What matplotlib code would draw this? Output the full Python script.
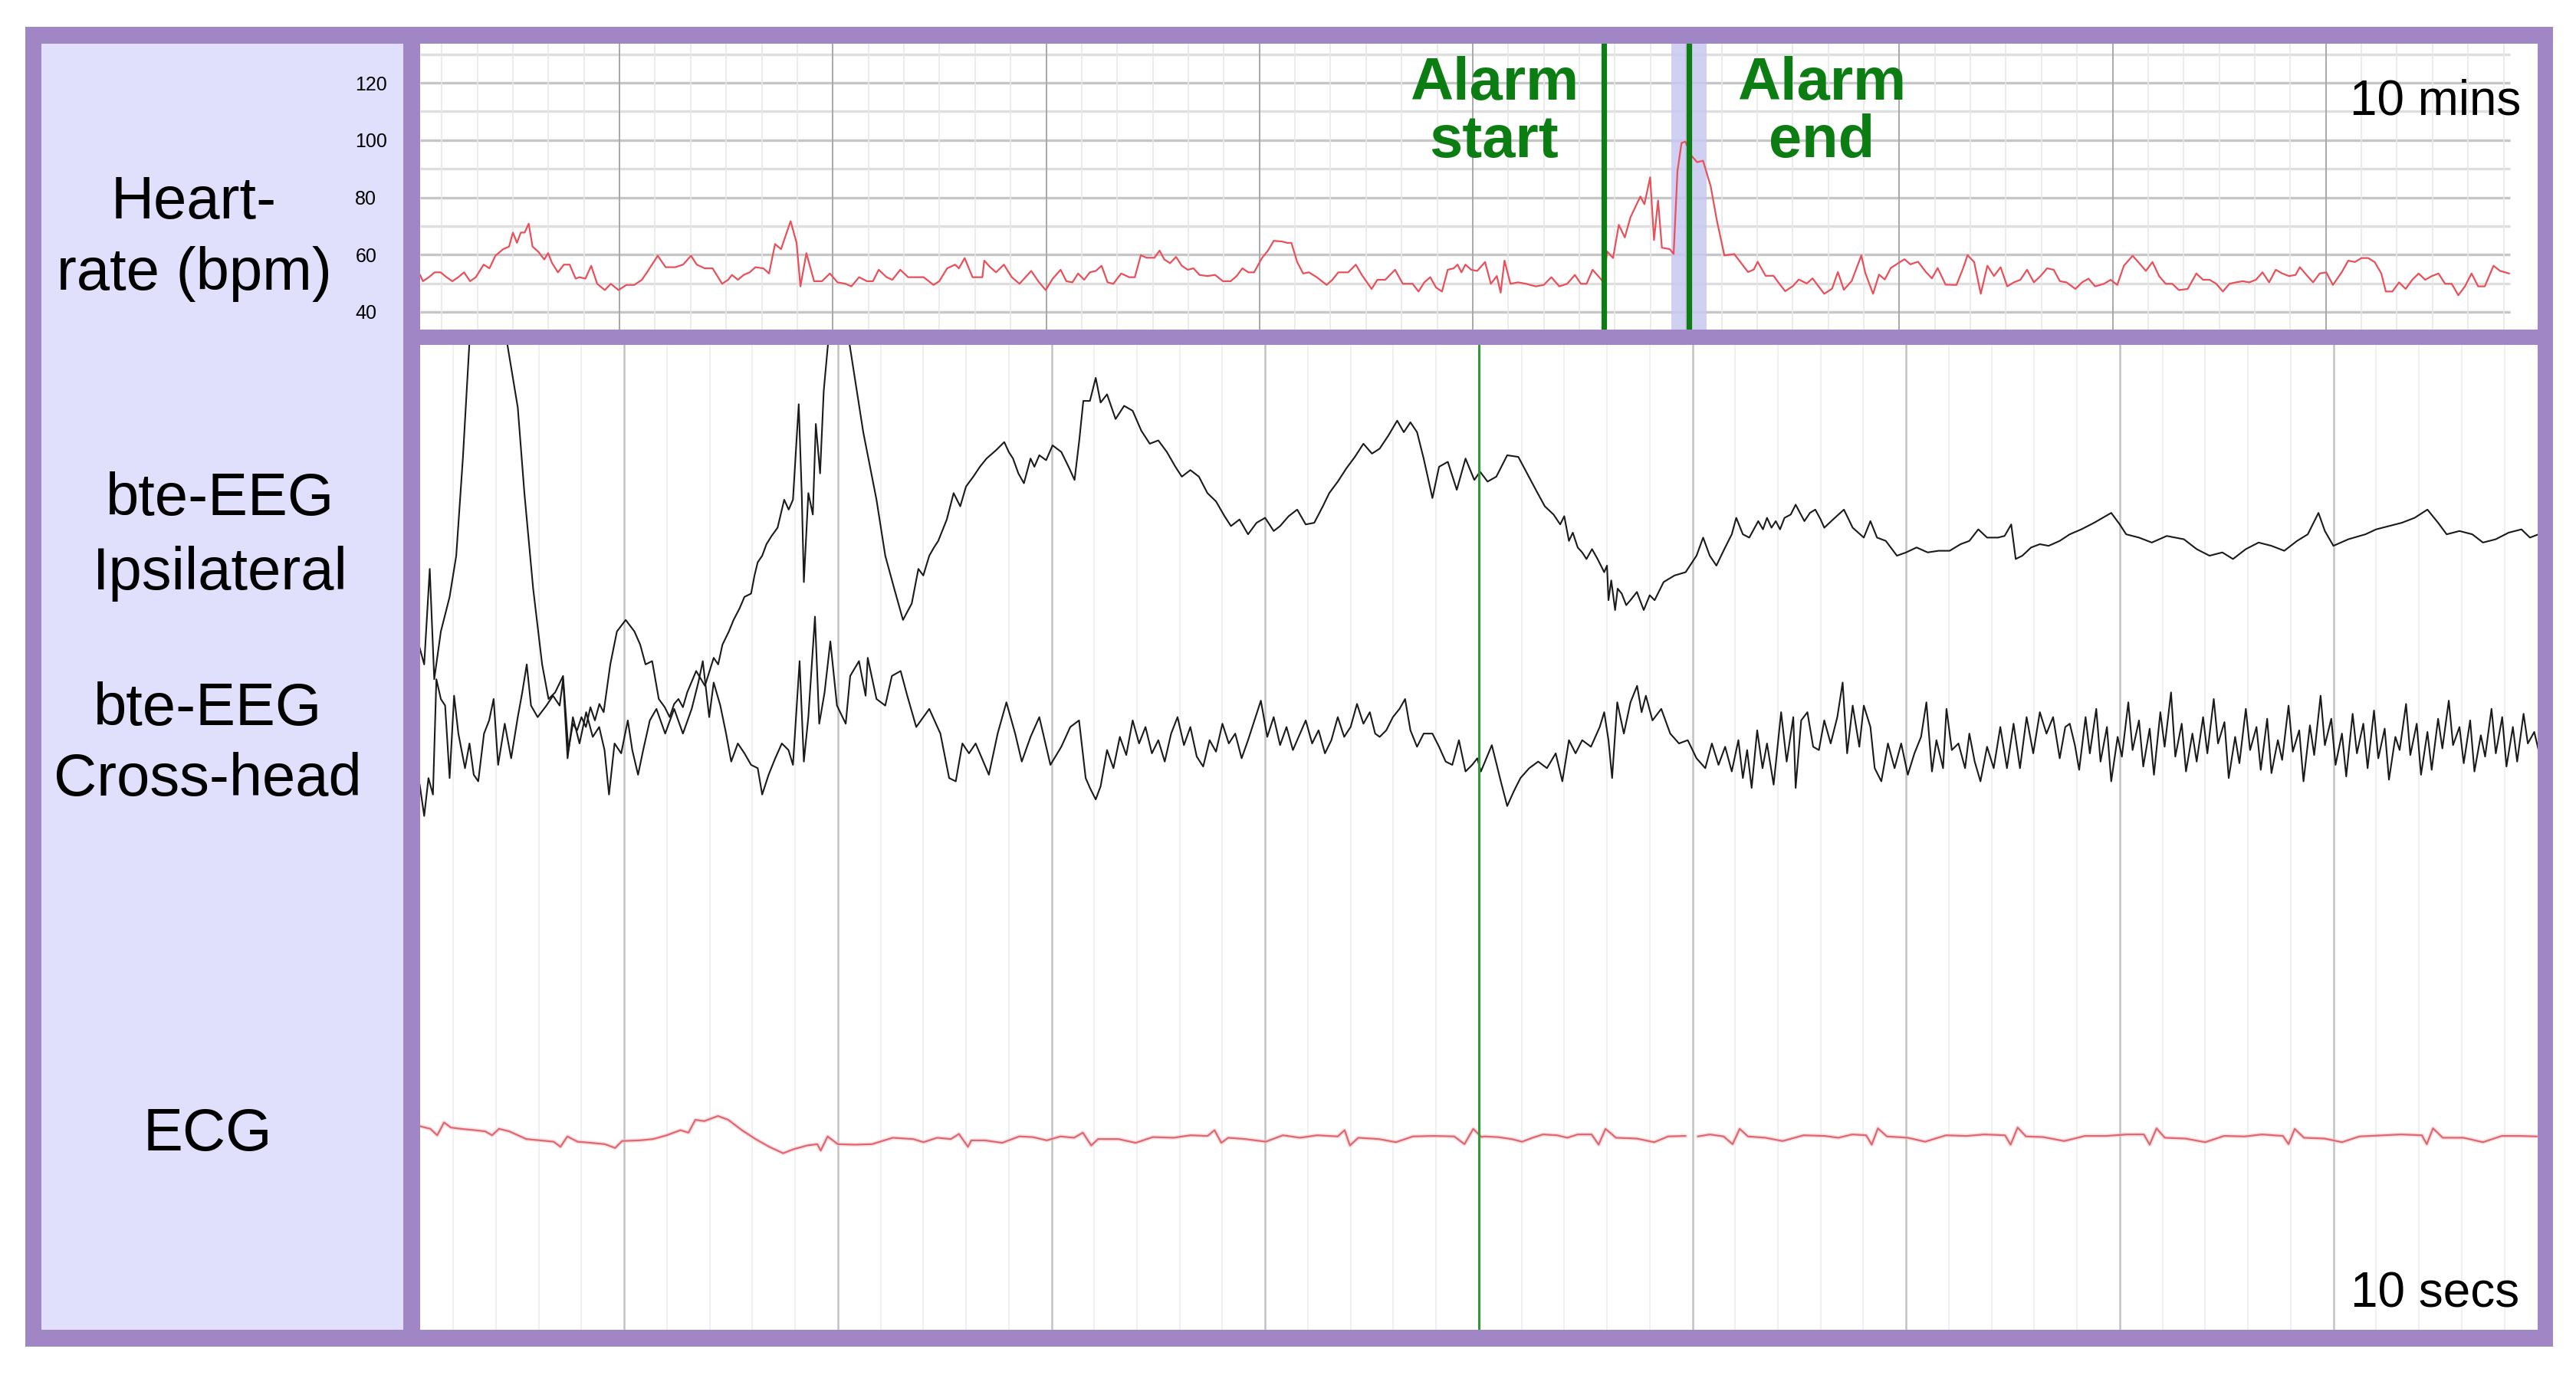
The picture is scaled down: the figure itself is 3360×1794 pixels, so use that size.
import numpy as np
import matplotlib
matplotlib.use("Agg")
import matplotlib.pyplot as plt
from matplotlib.patches import Rectangle

# --- data ------------------------------------------------------------------

# heart rate trend (minutes, bpm) - top strip, 10 min per major division
HR_BEFORE = [
    (0.65, 52.9), (0.78, 50.7), (1.06, 52.1), (1.33, 53.8), (1.61, 53.8), (1.89, 52.1),
    (2.16, 50.7), (2.44, 52.1), (2.71, 53.8), (2.99, 50.7), (3.26, 52.1), (3.63, 56.5),
    (3.90, 55.2), (4.18, 59.6), (4.54, 61.9), (4.82, 62.8), (5.00, 67.7), (5.19, 64.1),
    (5.37, 67.7), (5.55, 67.7), (5.74, 70.8), (5.92, 62.8), (6.19, 61.0), (6.47, 58.3),
    (6.65, 60.5), (6.84, 57.0), (7.11, 53.8), (7.39, 56.5), (7.66, 56.5), (7.94, 51.6),
    (8.12, 52.1), (8.40, 51.6), (8.67, 56.1), (8.95, 49.8), (9.31, 47.6), (9.59, 49.8),
    (9.95, 47.6), (10.32, 49.4), (10.69, 49.4), (11.05, 51.2), (11.33, 54.3), (11.79, 59.6),
    (12.16, 55.6), (12.61, 55.6), (12.98, 56.5), (13.35, 59.6), (13.62, 56.5), (13.99, 55.2),
    (14.36, 55.2), (14.81, 49.8), (15.09, 51.2), (15.27, 52.9), (15.55, 51.2), (15.82, 52.9),
    (16.10, 53.8), (16.37, 55.6), (16.74, 55.2), (17.01, 53.4), (17.29, 63.7), (17.57, 61.9),
    (18.02, 71.7), (18.30, 64.1), (18.48, 48.9), (18.76, 60.5), (19.12, 50.7), (19.49, 50.7),
    (19.86, 53.4), (20.22, 50.3), (20.59, 49.8), (20.87, 48.9), (21.23, 52.1), (21.60, 50.7),
    (21.88, 50.7), (22.15, 54.7), (22.52, 52.1), (22.79, 51.2), (23.16, 54.7), (23.53, 52.1),
    (23.89, 52.1), (24.26, 52.1), (24.72, 49.4), (24.99, 50.7), (25.36, 55.2), (25.73, 56.5),
    (25.91, 55.2), (26.18, 58.8), (26.55, 52.1), (27.01, 52.1), (27.10, 57.9), (27.38, 55.6),
    (27.65, 53.8), (28.02, 56.5), (28.39, 52.1), (28.75, 49.8),
    (29.30, 54.3), (29.67, 50.3), (29.98, 47.6), (30.31, 51.6), (30.68, 54.7), (30.95, 50.7),
    (31.23, 50.3), (31.50, 53.4), (31.78, 51.2), (32.05, 53.8), (32.33, 54.3), (32.60, 56.1),
    (32.88, 50.3), (33.15, 49.8), (33.52, 53.4), (33.89, 52.1), (34.16, 52.1), (34.44, 59.8),
    (34.71, 58.9), (35.08, 58.9), (35.32, 61.4), (35.54, 58.3), (35.81, 57.0), (36.09, 59.2),
    (36.36, 56.1), (36.64, 54.7), (36.91, 55.2), (37.19, 52.9), (37.55, 52.5), (37.92, 52.9),
    (38.29, 50.7), (38.65, 50.7), (38.93, 52.5), (39.20, 55.2), (39.48, 53.8), (39.75, 53.8),
    (40.12, 58.8), (40.40, 61.4), (40.67, 64.8), (41.04, 64.6), (41.31, 64.1), (41.50, 64.1),
    (41.77, 57.4), (42.05, 53.4), (42.32, 53.8), (42.69, 52.1), (43.15, 49.4), (43.42, 51.2),
    (43.70, 53.8), (44.16, 53.8), (44.52, 56.5), (44.80, 52.9), (45.26, 48.0), (45.53, 51.2),
    (45.90, 51.2), (46.36, 54.7), (46.72, 49.8), (47.18, 49.8), (47.46, 47.1), (47.73, 50.3),
    (48.01, 52.1), (48.28, 48.5), (48.56, 47.1), (48.83, 54.7), (49.11, 55.2), (49.29, 56.5),
    (49.47, 53.8), (49.66, 56.5), (49.93, 54.7), (50.21, 54.3), (50.58, 57.4), (50.85, 49.8),
    (51.13, 52.5), (51.31, 46.7), (51.49, 57.9), (51.77, 49.8), (52.13, 50.3), (52.50, 49.8),
    (52.96, 48.9), (53.33, 49.4), (53.69, 52.1), (54.06, 48.9), (54.43, 49.8), (54.79, 52.9),
    (55.07, 49.8), (55.34, 49.8), (55.62, 54.7), (55.99, 51.6), (56.13, 50.3),
]
HR_ALARM = [
    (56.30, 61.1), (56.58, 58.8), (56.85, 70.4), (57.13, 66.0), (57.40, 73.1), (57.86, 80.3),
    (58.05, 77.6), (58.32, 87.0), (58.50, 65.1), (58.69, 78.9), (58.87, 62.4), (59.24, 61.9),
    (59.42, 60.2), (59.60, 89.2), (59.79, 99.0), (59.97, 99.5), (60.25, 94.6), (60.52, 92.3),
    (60.80, 92.8), (61.16, 83.8), (61.44, 72.2), (61.80, 59.7), (62.26, 60.2), (62.54, 57.5),
    (62.91, 53.9), (63.18, 54.8), (63.36, 57.5), (63.73, 52.6), (64.10, 52.6), (64.37, 49.9),
    (64.65, 47.2), (65.01, 49.0), (65.29, 51.3), (65.66, 49.9), (65.93, 51.7), (66.48, 46.3),
    (66.85, 48.1), (67.12, 53.9), (67.40, 47.7), (67.77, 50.8), (68.22, 59.7), (68.41, 53.5),
    (68.77, 46.3), (69.05, 53.0), (69.32, 51.3), (69.60, 55.3), (69.97, 57.1), (70.24, 58.4),
    (70.52, 56.6), (70.88, 57.5), (71.25, 53.9), (71.53, 51.7), (71.80, 55.3), (72.17, 49.5),
]
HR_AFTER = [
    (72.68, 49.4), (72.99, 55.2), (73.20, 59.8), (73.51, 57.4), (73.82, 46.3), (74.13, 56.1),
    (74.44, 52.5), (74.75, 55.6), (75.06, 48.9), (75.37, 50.3), (75.68, 51.2), (75.99, 54.7),
    (76.31, 50.3), (76.62, 52.5), (76.93, 55.2), (77.24, 54.7), (77.53, 50.7), (77.84, 50.3),
    (78.26, 48.0), (78.57, 50.3), (78.87, 51.6), (79.18, 48.9), (79.60, 49.8), (79.91, 51.2),
    (80.22, 49.4), (80.53, 56.1), (80.94, 59.6), (81.25, 57.0), (81.56, 54.3), (81.87, 57.4),
    (82.18, 52.5), (82.49, 49.8), (82.80, 49.8), (83.11, 47.6), (83.52, 48.0), (83.93, 53.4),
    (84.24, 51.2), (84.55, 51.2), (84.86, 49.8), (85.17, 47.1), (85.48, 49.8), (85.79, 50.3),
    (86.10, 50.7), (86.41, 50.3), (86.72, 51.2), (87.03, 53.8), (87.34, 50.3), (87.65, 54.7),
    (87.96, 53.4), (88.27, 52.5), (88.58, 52.9), (88.78, 55.6), (89.09, 52.9), (89.40, 50.3),
    (89.71, 53.4), (90.02, 53.8), (90.33, 49.4), (90.74, 53.8), (91.05, 57.9), (91.36, 57.4),
    (91.67, 58.8), (91.98, 58.8), (92.29, 57.4), (92.60, 53.4), (92.81, 47.1), (93.12, 47.1),
    (93.43, 50.3), (93.74, 48.0), (94.05, 51.2), (94.35, 53.4), (94.66, 51.2), (94.97, 52.5),
    (95.28, 53.4), (95.59, 49.8), (95.90, 49.8), (96.21, 45.8), (96.52, 48.9), (96.83, 53.4),
    (97.14, 48.9), (97.45, 48.9), (97.86, 56.1), (98.17, 54.3), (98.59, 53.4),
]
HR_TICKS = [40, 60, 80, 100, 120]
ALARM_START = 56.15
ALARM_END = 60.15
ALARM_SHADE = (59.3, 60.95)

# raw 10 s window (seconds, amplitude in display units; 0 = bottom of strip)
EEG_IPSI = [
    (0.043, 414), (0.064, 404), (0.090, 462), (0.111, 395), (0.142, 424), (0.183, 445),
    (0.214, 470), (0.245, 529), (0.276, 600), (0.360, 700), (0.451, 600), (0.502, 560),
    (0.533, 508), (0.574, 450), (0.616, 404), (0.646, 383), (0.677, 387), (0.714, 397),
    (0.739, 352), (0.760, 368), (0.780, 364), (0.800, 372), (0.821, 366), (0.842, 378),
    (0.863, 370), (0.884, 380), (0.904, 375), (0.935, 404), (0.966, 424), (1.007, 431),
    (1.048, 424), (1.075, 416), (1.100, 404), (1.131, 406), (1.162, 383), (1.190, 378),
    (1.213, 372), (1.234, 380), (1.254, 383), (1.275, 378), (1.295, 387), (1.337, 400),
    (1.378, 391), (1.419, 408), (1.440, 404), (1.460, 416), (1.490, 424), (1.512, 431),
    (1.540, 438), (1.563, 445), (1.594, 447), (1.610, 458), (1.625, 466), (1.646, 470),
    (1.666, 477), (1.690, 482), (1.718, 487), (1.749, 504), (1.770, 498), (1.790, 504),
    (1.817, 562), (1.831, 508), (1.841, 454), (1.862, 508), (1.883, 495), (1.897, 550),
    (1.917, 520), (1.934, 570), (1.955, 600), (2.006, 680), (2.053, 600), (2.119, 545),
    (2.181, 504), (2.222, 470), (2.264, 450), (2.305, 431), (2.346, 441), (2.377, 462),
    (2.400, 458), (2.428, 470), (2.450, 475), (2.470, 479), (2.510, 492), (2.542, 508),
    (2.573, 500), (2.600, 512), (2.634, 518), (2.665, 524), (2.696, 529), (2.740, 534),
    (2.779, 539), (2.800, 533), (2.820, 529), (2.845, 520), (2.871, 514), (2.902, 529),
    (2.920, 524), (2.943, 531), (2.975, 528), (3.005, 537), (3.046, 533), (3.080, 524),
    (3.108, 516), (3.130, 540), (3.149, 564), (3.180, 564), (3.207, 578), (3.230, 563),
    (3.260, 568), (3.300, 553), (3.340, 561), (3.380, 558), (3.420, 546), (3.460, 538),
    (3.500, 540), (3.540, 533), (3.580, 524), (3.610, 518), (3.650, 522), (3.690, 518),
    (3.730, 508), (3.770, 503), (3.810, 494), (3.840, 488), (3.880, 492), (3.920, 483),
    (3.960, 490), (4.000, 493), (4.040, 485), (4.070, 488), (4.110, 494), (4.150, 498),
    (4.190, 489), (4.230, 490), (4.270, 500), (4.300, 508), (4.340, 515), (4.380, 523),
    (4.420, 530), (4.460, 538), (4.500, 532),
    (4.536, 535), (4.577, 543), (4.618, 552), (4.649, 545), (4.680, 551), (4.711, 545),
    (4.742, 529), (4.783, 505), (4.814, 524), (4.855, 527), (4.897, 510), (4.938, 529),
    (4.979, 516), (5.006, 521), (5.041, 515), (5.082, 518), (5.133, 531), (5.185, 530),
    (5.226, 520), (5.267, 510), (5.309, 500), (5.350, 495), (5.381, 489), (5.400, 494),
    (5.422, 479), (5.440, 484), (5.463, 475), (5.484, 472), (5.504, 468), (5.530, 474),
    (5.556, 468), (5.587, 460), (5.600, 464), (5.607, 443), (5.620, 455), (5.638, 437),
    (5.650, 450), (5.669, 447), (5.690, 440), (5.710, 443), (5.740, 448), (5.772, 437),
    (5.800, 446), (5.823, 443), (5.865, 454), (5.916, 458), (5.968, 460), (6.019, 470),
    (6.050, 481), (6.081, 470), (6.112, 464), (6.153, 475), (6.184, 483), (6.205, 493),
    (6.236, 483), (6.266, 481), (6.308, 491), (6.330, 486), (6.349, 493), (6.370, 487),
    (6.390, 491), (6.410, 486), (6.431, 493), (6.460, 495), (6.483, 501), (6.524, 491),
    (6.550, 496), (6.575, 498), (6.600, 492), (6.617, 487), (6.658, 492), (6.709, 498),
    (6.750, 487), (6.802, 481), (6.833, 491), (6.864, 481), (6.905, 479), (6.957, 470),
    (7.000, 472), (7.049, 475), (7.101, 472), (7.152, 473), (7.204, 473), (7.255, 477),
    (7.296, 479), (7.338, 486), (7.379, 481), (7.430, 481), (7.461, 482), (7.492, 489),
    (7.513, 468), (7.544, 470), (7.585, 475), (7.626, 477), (7.667, 476), (7.719, 479),
    (7.766, 483), (7.820, 486), (7.880, 490), (7.920, 493), (7.960, 496), (8.000, 489),
    (8.030, 483), (8.090, 481), (8.150, 478), (8.220, 482), (8.300, 480), (8.360, 474),
    (8.420, 470), (8.480, 472), (8.530, 468), (8.590, 474), (8.650, 478), (8.710, 476),
    (8.770, 473), (8.830, 479), (8.880, 483), (8.930, 496), (8.960, 485), (9.000, 476),
    (9.070, 480), (9.150, 483), (9.200, 486), (9.260, 488), (9.320, 490), (9.380, 493),
    (9.440, 498), (9.490, 490), (9.530, 483), (9.590, 485), (9.650, 483), (9.700, 478),
    (9.760, 480), (9.820, 484), (9.880, 486), (9.920, 481), (9.960, 483),
]
EEG_CROSS = [
    (0.043, 331), (0.064, 312), (0.084, 335), (0.105, 325), (0.121, 395), (0.142, 383),
    (0.162, 379), (0.183, 335), (0.204, 385), (0.224, 362), (0.255, 341), (0.276, 356),
    (0.296, 337), (0.317, 333), (0.344, 362), (0.368, 370), (0.389, 383), (0.410, 343),
    (0.441, 368), (0.471, 347), (0.502, 372), (0.523, 387), (0.544, 404), (0.564, 379),
    (0.595, 372), (0.636, 379), (0.667, 385), (0.698, 379), (0.714, 395), (0.735, 347),
    (0.760, 372), (0.791, 356), (0.822, 375), (0.853, 360), (0.883, 366), (0.908, 352),
    (0.929, 325), (0.955, 356), (0.986, 350), (1.017, 370), (1.038, 352), (1.065, 337),
    (1.089, 352), (1.120, 370), (1.151, 377), (1.192, 362), (1.234, 377), (1.275, 362),
    (1.316, 377), (1.347, 393), (1.368, 406), (1.398, 372), (1.419, 393), (1.450, 379),
    (1.477, 362), (1.501, 345), (1.532, 356), (1.563, 350), (1.594, 343), (1.625, 341),
    (1.646, 325), (1.676, 337), (1.707, 347), (1.738, 356), (1.769, 352), (1.790, 343),
    (1.821, 406), (1.841, 345), (1.862, 372), (1.893, 433), (1.913, 368), (1.938, 387),
    (1.965, 418), (1.996, 379), (2.037, 368), (2.058, 397), (2.099, 406), (2.130, 385),
    (2.140, 408), (2.181, 383), (2.222, 379), (2.253, 397), (2.294, 400), (2.325, 385),
    (2.367, 366), (2.428, 377), (2.480, 362), (2.521, 335), (2.552, 333), (2.583, 356),
    (2.614, 350), (2.645, 356), (2.707, 337), (2.748, 362), (2.789, 381), (2.830, 362),
    (2.861, 345), (2.902, 360), (2.943, 372), (2.995, 343), (3.046, 354), (3.088, 366),
    (3.129, 370), (3.160, 335), (3.180, 329), (3.207, 322), (3.230, 330), (3.260, 352),
    (3.290, 341), (3.320, 360), (3.350, 349), (3.380, 370), (3.410, 356), (3.440, 366),
    (3.470, 350), (3.500, 358), (3.530, 345), (3.560, 362), (3.590, 372), (3.620, 355),
    (3.650, 366), (3.680, 348), (3.710, 342), (3.740, 358), (3.770, 351), (3.800, 368),
    (3.830, 356), (3.860, 362), (3.890, 347), (3.920, 358), (3.950, 370), (3.980, 382),
    (4.010, 360), (4.040, 372), (4.070, 355), (4.100, 366), (4.130, 352), (4.160, 361),
    (4.190, 370), (4.220, 356), (4.250, 364), (4.280, 350), (4.310, 358), (4.340, 372),
    (4.370, 360), (4.400, 366), (4.430, 380), (4.460, 368), (4.490, 375), (4.515, 362),
    (4.536, 360), (4.567, 364), (4.598, 372), (4.629, 377), (4.655, 383), (4.680, 364),
    (4.711, 354), (4.742, 362), (4.783, 362), (4.814, 354), (4.845, 345), (4.876, 343),
    (4.907, 358), (4.938, 339), (4.969, 343), (4.993, 347), (5.010, 339), (5.061, 355),
    (5.103, 333), (5.133, 318), (5.164, 327), (5.195, 335), (5.236, 341), (5.278, 345),
    (5.319, 341), (5.360, 350), (5.391, 333), (5.422, 358), (5.453, 350), (5.484, 358),
    (5.525, 354), (5.566, 366), (5.587, 375), (5.607, 358), (5.624, 335), (5.648, 381),
    (5.679, 362), (5.710, 381), (5.741, 391), (5.762, 375), (5.782, 385), (5.813, 370),
    (5.854, 377), (5.896, 362), (5.937, 356), (5.978, 358), (6.019, 347), (6.060, 341),
    (6.091, 356), (6.122, 343), (6.153, 354), (6.184, 339), (6.215, 358), (6.236, 335),
    (6.256, 352), (6.277, 329), (6.303, 364), (6.328, 341), (6.349, 356), (6.380, 331),
    (6.415, 375), (6.441, 345), (6.472, 372), (6.483, 329), (6.509, 370), (6.538, 375),
    (6.565, 354), (6.592, 352), (6.617, 370), (6.647, 356), (6.678, 372), (6.703, 393),
    (6.724, 350), (6.750, 379), (6.781, 354), (6.802, 379), (6.833, 366), (6.853, 341),
    (6.884, 333), (6.915, 356), (6.946, 341), (6.977, 356), (7.008, 337), (7.039, 350),
    (7.070, 360), (7.095, 381), (7.121, 339), (7.142, 358), (7.173, 341), (7.189, 377),
    (7.214, 352), (7.245, 356), (7.276, 341), (7.296, 362), (7.321, 345), (7.348, 333),
    (7.379, 354), (7.410, 341), (7.441, 366), (7.472, 341), (7.503, 368), (7.533, 341),
    (7.564, 372), (7.595, 350), (7.626, 375), (7.657, 362), (7.688, 372), (7.719, 347),
    (7.745, 366), (7.766, 368), (7.790, 355), (7.810, 340), (7.840, 372), (7.860, 350),
    (7.890, 377), (7.910, 345), (7.940, 366), (7.960, 333), (7.990, 360), (8.010, 348),
    (8.040, 381), (8.060, 352), (8.090, 370), (8.110, 342), (8.140, 365), (8.160, 337),
    (8.190, 375), (8.210, 354), (8.240, 387), (8.260, 348), (8.290, 368), (8.310, 339),
    (8.340, 362), (8.360, 345), (8.390, 372), (8.410, 350), (8.440, 383), (8.460, 356),
    (8.490, 369), (8.510, 335), (8.540, 360), (8.560, 344), (8.590, 377), (8.610, 352),
    (8.640, 366), (8.660, 340), (8.690, 371), (8.710, 338), (8.740, 358), (8.760, 346),
    (8.790, 379), (8.810, 351), (8.840, 364), (8.860, 333), (8.890, 367), (8.910, 349),
    (8.940, 385), (8.960, 355), (8.990, 371), (9.010, 343), (9.040, 362), (9.060, 336),
    (9.090, 374), (9.110, 350), (9.140, 368), (9.160, 341), (9.190, 376), (9.210, 347),
    (9.240, 365), (9.260, 334), (9.290, 360), (9.310, 352), (9.340, 380), (9.360, 349),
    (9.390, 368), (9.410, 337), (9.440, 363), (9.460, 340), (9.490, 371), (9.510, 353),
    (9.540, 382), (9.560, 355), (9.590, 366), (9.610, 344), (9.640, 370), (9.660, 339),
    (9.690, 361), (9.710, 348), (9.740, 377), (9.760, 350), (9.790, 372), (9.810, 342),
    (9.840, 366), (9.860, 345), (9.890, 374), (9.910, 356), (9.940, 363), (9.960, 352),
]
ECG = [
    (0.045, 123.6), (0.093, 122.0), (0.125, 118.1), (0.157, 125.9), (0.189, 122.8),
    (0.237, 122.0), (0.301, 121.2), (0.349, 120.5), (0.382, 118.1), (0.414, 122.0),
    (0.462, 120.5), (0.542, 115.8), (0.606, 115.0), (0.670, 114.2), (0.702, 111.1),
    (0.734, 117.4), (0.782, 114.2), (0.846, 113.5), (0.910, 112.7), (0.958, 110.4),
    (0.990, 114.6), (1.071, 115.0), (1.135, 115.8), (1.199, 118.1), (1.263, 121.2),
    (1.301, 119.7), (1.333, 127.5), (1.375, 126.7), (1.439, 129.8), (1.487, 127.5),
    (1.551, 121.2), (1.615, 115.8), (1.679, 111.1), (1.744, 107.2), (1.792, 109.6),
    (1.856, 111.9), (1.904, 112.7), (1.920, 108.8), (1.952, 117.4), (2.000, 112.7),
    (2.080, 112.4), (2.160, 112.7), (2.257, 116.6), (2.353, 115.8), (2.401, 113.9),
    (2.465, 116.6), (2.529, 115.8), (2.567, 118.9), (2.609, 111.1), (2.625, 115.0),
    (2.689, 115.0), (2.769, 113.5), (2.849, 117.4), (2.913, 117.0), (2.978, 115.0),
    (3.042, 117.4), (3.106, 116.6), (3.147, 119.7), (3.186, 111.9), (3.218, 115.8),
    (3.314, 115.8), (3.394, 113.5), (3.474, 117.0), (3.571, 116.6), (3.651, 118.1),
    (3.731, 117.7), (3.763, 121.2), (3.795, 113.5), (3.827, 116.6), (3.907, 115.8),
    (4.003, 114.2), (4.083, 118.1), (4.163, 116.6), (4.244, 118.1), (4.340, 117.4),
    (4.372, 121.2), (4.397, 111.9), (4.436, 116.6), (4.532, 115.8), (4.612, 113.9),
    (4.692, 117.4), (4.788, 117.7), (4.885, 117.4), (4.933, 112.7), (4.974, 122.0),
    (5.013, 117.0), (5.024, 117.4), (5.089, 117.0), (5.154, 115.8), (5.203, 114.2),
    (5.252, 116.6), (5.300, 118.6), (5.366, 118.1), (5.414, 116.6), (5.463, 118.6),
    (5.528, 118.6), (5.561, 112.4), (5.593, 122.0), (5.642, 116.6), (5.740, 116.1),
    (5.821, 113.9), (5.886, 117.4), (5.967, 117.7), (5.990, np.nan), (6.026, 117.4),
    (6.081, 118.6), (6.146, 117.4), (6.188, 112.7), (6.221, 122.0), (6.260, 117.4),
    (6.341, 116.6), (6.422, 114.6), (6.520, 118.1), (6.618, 117.7), (6.683, 116.6),
    (6.748, 118.6), (6.813, 118.1), (6.839, 112.4), (6.868, 122.3), (6.910, 117.4),
    (7.008, 116.6), (7.089, 114.2), (7.187, 118.1), (7.284, 117.7), (7.366, 118.6),
    (7.463, 118.1), (7.489, 112.4), (7.522, 122.8), (7.561, 117.4), (7.642, 117.0),
    (7.740, 114.6), (7.837, 117.7), (7.935, 117.7), (8.032, 118.6), (8.113, 118.6),
    (8.140, 112.4), (8.172, 122.3), (8.211, 116.6), (8.308, 116.1), (8.400, 113.9),
    (8.488, 117.7), (8.585, 117.4), (8.666, 118.6), (8.764, 117.7), (8.790, 112.7),
    (8.819, 122.0), (8.862, 116.6), (8.959, 116.1), (9.040, 113.9), (9.122, 117.4),
    (9.219, 118.0), (9.317, 118.6), (9.414, 118.1), (9.437, 112.7), (9.466, 122.3),
    (9.512, 116.6), (9.609, 116.6), (9.700, 113.9), (9.788, 117.7), (9.870, 117.7),
    (9.951, 117.4),
]
MARKER_SEC = 5.0

# --- styling ----------------------------------------------------------------
W, H, DPI = 3360, 1794, 200
PURPLE = '#a086c4'
LAVENDER = '#e0dffc'
GREEN = '#0b7d12'
RED = '#e8505a'
SANS = ['Liberation Sans', 'DejaVu Sans']

fig = plt.figure(figsize=(W / DPI, H / DPI), dpi=DPI)
fig.patch.set_facecolor('white')


def rect(x0, y0, x1, y1):
    # pixel box (from top-left) -> figure fraction
    return [x0 / W, 1 - y1 / H, (x1 - x0) / W, (y1 - y0) / H]


def box(x0, y0, x1, y1, color):
    l, b, w, h = rect(x0, y0, x1, y1)
    fig.patches.append(Rectangle((l, b), w, h, transform=fig.transFigure,
                                 facecolor=color, edgecolor='none', zorder=-5))


def label(x, y, s, **kw):
    fig.text(x / W, 1 - y / H, s, ha='center', va='baseline', family=SANS, **kw)


def clean(ax):
    for sp in ax.spines.values():
        sp.set_visible(False)
    ax.set_xticks([])
    ax.set_facecolor('white')


box(33, 35, 3330, 1757, PURPLE)
box(54, 57, 526, 1735, LAVENDER)

# --- top strip: heart-rate trend ---------------------------------------------
ax_hr = fig.add_axes(rect(548, 57, 3310, 430))
clean(ax_hr)
hr_left, hr_right, hr_end = 0.65, 99.93, 98.65
ax_hr.set_xlim(hr_left, hr_right)
ax_hr.set_ylim(33.8, 133.7)

for v in range(40, 131, 10):
    ax_hr.hlines(v, hr_left, hr_end, color='#c6c6c6' if v % 20 == 0 else '#dedede',
                 lw=1.2, zorder=1)
for k in range(1, 60):
    t = k * 10 / 6
    major = k % 6 == 0
    ax_hr.axvline(t, color='#a8a8a8' if major else '#e8e8e8',
                  lw=0.7 if major else 0.6, zorder=1)

ax_hr.axvspan(*ALARM_SHADE, color='#c8c8f2', alpha=0.85, lw=0, zorder=2)
hr_all = HR_BEFORE + HR_ALARM + HR_AFTER
ax_hr.plot([p[0] for p in hr_all], [p[1] for p in hr_all], color=RED, lw=0.8, zorder=3)
ax_hr.axvline(ALARM_START, color=GREEN, lw=2.6, zorder=4)
ax_hr.axvline(ALARM_END, color=GREEN, lw=2.6, zorder=4)

ax_hr.set_yticks(HR_TICKS)
ax_hr.set_yticklabels([str(v) for v in HR_TICKS],
                      family=['Liberation Sans Narrow', 'Liberation Sans'], fontsize=9)
ax_hr.tick_params(axis='y', length=0, pad=30.5)
for lbl in ax_hr.get_yticklabels():
    lbl.set_horizontalalignment('left')

label(1949, 130, 'Alarm', fontsize=28, fontweight='bold', color=GREEN)
label(2376, 130, 'Alarm', fontsize=28, fontweight='bold', color=GREEN)
label(1949, 205, 'start', fontsize=28, fontweight='bold', color=GREEN)
label(2376, 205, 'end', fontsize=28, fontweight='bold', color=GREEN)
fig.text(3288 / W, 1 - 150 / H, '10 mins', ha='right', va='baseline',
         family=SANS, fontsize=23, color='black')

# --- bottom strip: raw EEG / ECG ----------------------------------------------
ax_raw = fig.add_axes(rect(548, 450, 3310, 1735))
clean(ax_raw)
ax_raw.set_yticks([])
ax_raw.set_xlim(0.045, 9.956)
ax_raw.set_ylim(0, 598)

for k in range(1, 50):
    t = k * 0.2
    major = k % 5 == 0
    ax_raw.axvline(t, color='#c2c2c2' if major else '#eeeeee',
                   lw=0.9 if major else 0.6, zorder=1)

ax_raw.plot([p[0] for p in EEG_IPSI], [p[1] for p in EEG_IPSI], color='#1a1a1a', lw=0.75, zorder=3)
ax_raw.plot([p[0] for p in EEG_CROSS], [p[1] for p in EEG_CROSS], color='#1a1a1a', lw=0.75, zorder=3)
ecg_t = [p[0] for p in ECG]
ecg_v = [p[1] for p in ECG]
ax_raw.plot(ecg_t, ecg_v, color='#f6c4c8', lw=2.0, alpha=0.5, zorder=2)
ax_raw.plot(ecg_t, ecg_v, color='#e06670', lw=0.8, zorder=3)
ax_raw.axvline(MARKER_SEC, color='#2e9a3a', lw=1.1, zorder=4)

fig.text(3286 / W, 1 - 1705 / H, '10 secs', ha='right', va='baseline',
         family=SANS, fontsize=23, color='black')

# --- channel labels ------------------------------------------------------------
label(253, 285, 'Heart-', fontsize=28)
label(253, 378, 'rate (bpm)', fontsize=28)
label(287, 672, 'bte-EEG', fontsize=28)
label(287, 769, 'Ipsilateral', fontsize=28)
label(271, 946, 'bte-EEG', fontsize=28)
label(271, 1038, 'Cross-head', fontsize=28)
label(271, 1501, 'ECG', fontsize=28)

fig.savefig('out.png', dpi=DPI, facecolor='white')
